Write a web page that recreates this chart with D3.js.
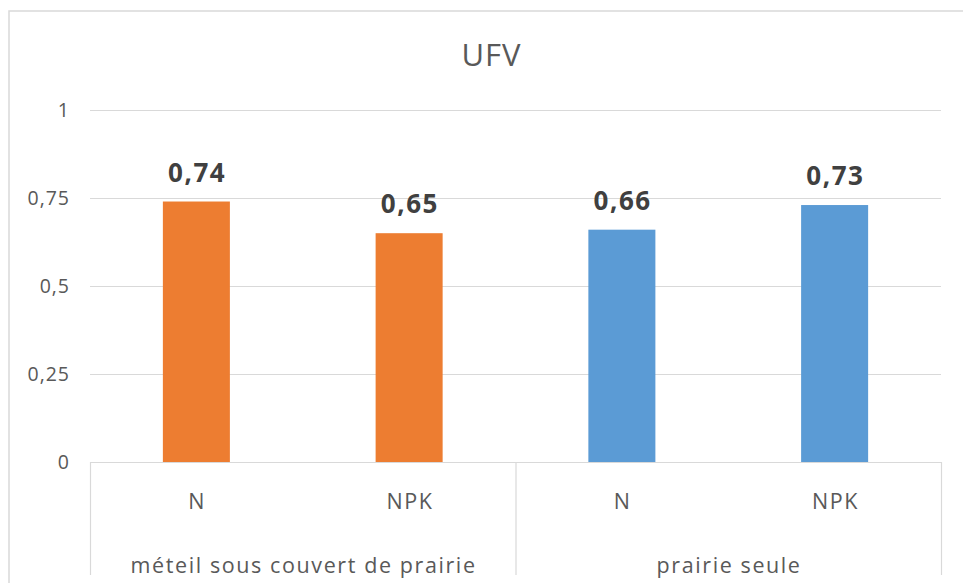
<!DOCTYPE html>
<html>
<head>
<meta charset="utf-8">
<script src="https://cdn.jsdelivr.net/npm/d3@7"></script>
<style>
  html, body { margin: 0; padding: 0; background: #fff; }
  svg { display: block; }
</style>
</head>
<body>
<svg id="chart" width="963" height="583"></svg>
<script>
const title = "UFV";
const groups = ["méteil sous couvert de prairie", "prairie seule"];
const subCategories = ["N", "NPK", "N", "NPK"];
const groupOfBar = [0, 0, 1, 1];
const values = [0.74, 0.65, 0.66, 0.73];
const valueLabels = ["0,74", "0,65", "0,66", "0,73"];
const yTicks = [0, 0.25, 0.5, 0.75, 1];
const yTickLabels = ["0", "0,25", "0,5", "0,75", "1"];
const groupColors = ["#ED7D31", "#5B9BD5"];

(function () {
const font = "'Open Sans', 'Liberation Sans', sans-serif";
const svg = d3.select("#chart");

// chart frame
svg.append("rect")
  .attr("x", 9).attr("y", 11).attr("width", 980).attr("height", 600)
  .attr("fill", "#fff").attr("stroke", "#d9d9d9").attr("stroke-width", 1.5);

const pLeft = 90, pRight = 941, pTop = 110, pBottom = 462;

const y = d3.scaleLinear().domain([0, 1]).range([pBottom, pTop]);
const x = d3.scaleBand().domain(d3.range(values.length)).range([pLeft, pRight]).paddingInner(0.685).paddingOuter(0.3425);
const xBand = d3.scaleBand().domain(d3.range(values.length)).range([pLeft, pRight]);
const xGroup = d3.scaleBand().domain(d3.range(groups.length)).range([pLeft, pRight]);

// gridlines
svg.append("g").selectAll("line").data(yTicks).join("line")
  .attr("x1", pLeft).attr("x2", pRight)
  .attr("y1", d => Math.round(y(d)) + 0.5).attr("y2", d => Math.round(y(d)) + 0.5)
  .attr("stroke", "#d9d9d9").attr("stroke-width", 1.2);

// y tick labels
svg.append("g").selectAll("text").data(yTicks).join("text")
  .attr("x", 70).attr("y", d => y(d))
  .attr("dy", "0.36em")
  .attr("text-anchor", "end")
  .attr("font-family", font).attr("font-size", 19.5)
  .attr("letter-spacing", 1)
  .attr("fill", "#595959")
  .text((d, i) => yTickLabels[i]);

// bars
svg.append("g").selectAll("rect").data(values).join("rect")
  .attr("x", (d, i) => x(i))
  .attr("width", x.bandwidth())
  .attr("y", d => y(d))
  .attr("height", d => pBottom - y(d))
  .attr("fill", (d, i) => groupColors[groupOfBar[i]]);

// value labels
svg.append("g").selectAll("text").data(values).join("text")
  .attr("x", (d, i) => x(i) + x.bandwidth() / 2 + 0.75)
  .attr("y", d => y(d) - 20)
  .attr("text-anchor", "middle")
  .attr("font-family", font).attr("font-size", 26).attr("font-weight", "bold")
  .attr("letter-spacing", 1.5)
  .attr("fill", "#404040")
  .text((d, i) => valueLabels[i]);

// category axis separators
const sepX = [pLeft, xGroup(1), pRight];
svg.append("g").selectAll("line").data(sepX).join("line")
  .attr("x1", d => d + 0.5).attr("x2", d => d + 0.5)
  .attr("y1", pBottom).attr("y2", 575)
  .attr("stroke", "#d9d9d9").attr("stroke-width", 1.2);

// sub-category labels
svg.append("g").selectAll("text").data(subCategories).join("text")
  .attr("x", (d, i) => xBand(i) + xBand.bandwidth() / 2 + 0.8)
  .attr("y", 509)
  .attr("text-anchor", "middle")
  .attr("font-family", font).attr("font-size", 21.5)
  .attr("letter-spacing", 1.6)
  .attr("fill", "#595959")
  .text(d => d);

// group labels
svg.append("g").selectAll("text").data(groups).join("text")
  .attr("x", (d, i) => xGroup(i) + xGroup.bandwidth() / 2 + 0.8)
  .attr("y", 573)
  .attr("text-anchor", "middle")
  .attr("font-family", font).attr("font-size", 21.5)
  .attr("letter-spacing", 1.6)
  .attr("fill", "#595959")
  .text(d => d);

// title
svg.append("text")
  .attr("x", 491.5).attr("y", 66)
  .attr("text-anchor", "middle")
  .attr("font-family", font).attr("font-size", 31)
  .attr("letter-spacing", 1)
  .attr("fill", "#595959")
  .text(title);
})();
</script>
</body>
</html>
